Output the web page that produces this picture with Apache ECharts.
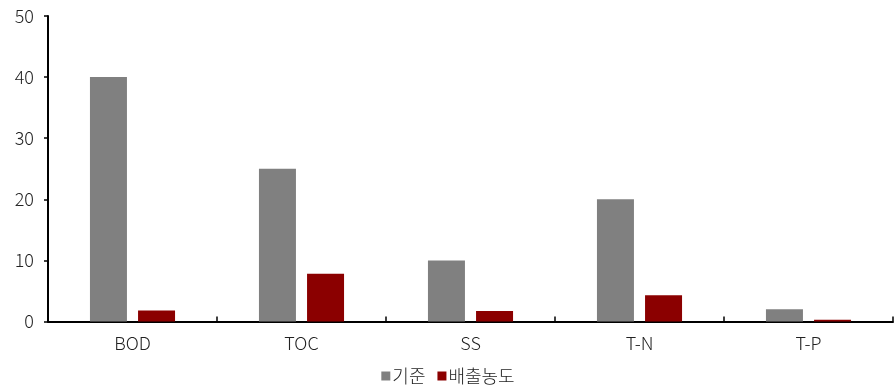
<!DOCTYPE html>
<html>
<head>
<meta charset="utf-8">
<script src="https://cdn.jsdelivr.net/npm/echarts@6/dist/echarts.min.js"></script>
<style>
  html, body { margin: 0; padding: 0; background: #fff; }
  #chart { width: 896px; height: 390px; }
</style>
</head>
<body>
<div id="chart"></div>
<script>
// Water quality items and concentrations
const categories = ['BOD', 'TOC', 'SS', 'T-N', 'T-P'];
const standardValues = [40, 25, 10, 20, 2];
const dischargeValues = [1.8, 7.8, 1.7, 4.3, 0.3];
const seriesNames = ['기준', '배출농도'];

const fontFamily = '"Noto Sans CJK KR", "Noto Sans", sans-serif';

const chart = echarts.init(document.getElementById('chart'), null, { renderer: 'canvas' });

chart.setOption({
  animation: false,
  textStyle: { fontFamily: fontFamily },
  grid: { left: 48, right: 3, top: 16, bottom: 68.5 },
  legend: {
    data: seriesNames,
    bottom: 0,
    left: 'center',
    itemWidth: 9,
    itemHeight: 9,
    itemGap: 12,
    icon: 'rect',
    textStyle: { fontSize: 18, fontWeight: 300, color: '#222', fontFamily: fontFamily, padding: [0, 0, 0, -3] }
  },
  xAxis: {
    type: 'category',
    data: categories,
    axisLine: { lineStyle: { color: '#000', width: 2 } },
    axisTick: { show: true, inside: true, length: 5, lineStyle: { color: '#000', width: 1.5 } },
    axisLabel: { fontSize: 18, fontWeight: 300, color: '#222', margin: 13 },
    splitLine: { show: false }
  },
  yAxis: {
    type: 'value',
    min: 0,
    max: 50,
    interval: 10,
    axisLine: { show: true, lineStyle: { color: '#000', width: 2 } },
    axisTick: { show: true, length: 4, lineStyle: { color: '#000', width: 1.5 } },
    axisLabel: { fontSize: 18, fontWeight: 300, color: '#222', margin: 14 },
    splitLine: { show: false }
  },
  series: [
    {
      name: seriesNames[0],
      type: 'bar',
      data: standardValues,
      barWidth: 37,
      barGap: '30%',
      itemStyle: { color: '#808080' }
    },
    {
      name: seriesNames[1],
      type: 'bar',
      data: dischargeValues,
      barWidth: 37,
      itemStyle: { color: '#8b0000' }
    }
  ]
});
</script>
</body>
</html>
